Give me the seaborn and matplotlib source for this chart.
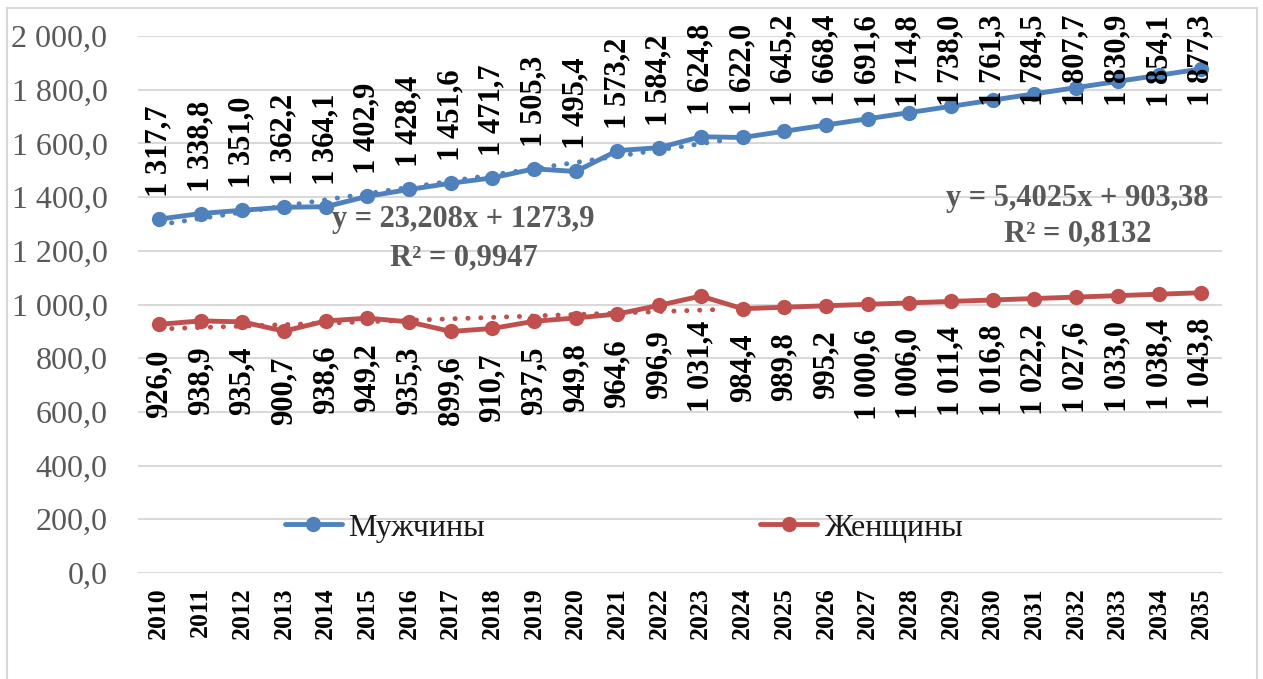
import numpy as np
import pandas as pd
import matplotlib
matplotlib.use("Agg")
import matplotlib.pyplot as plt
import seaborn as sns
from matplotlib.lines import Line2D
from matplotlib.patches import Rectangle

# ---- data ----
years = list(range(2010, 2036))
men = [1317.7, 1338.8, 1351.0, 1362.2, 1364.1, 1402.9, 1428.4, 1451.6, 1471.7,
       1505.3, 1495.4, 1573.2, 1584.2, 1624.8, 1622.0, 1645.2, 1668.4, 1691.6,
       1714.8, 1738.0, 1761.3, 1784.5, 1807.7, 1830.9, 1854.1, 1877.3]
women = [926.0, 938.9, 935.4, 900.7, 938.6, 949.2, 935.3, 899.6, 910.7, 937.5,
         949.8, 964.6, 996.9, 1031.4, 984.4, 989.8, 995.2, 1000.6, 1006.0,
         1011.4, 1016.8, 1022.2, 1027.6, 1033.0, 1038.4, 1043.8]
series_names = ["Мужчины", "Женщины"]
men_eq = ["y = 23,208x + 1273,9", "R² = 0,9947"]
women_eq = ["y = 5,4025x + 903,38", "R² = 0,8132"]
trend_points = 14  # trend fitted on 2010-2023
y_ticks = [0, 200, 400, 600, 800, 1000, 1200, 1400, 1600, 1800, 2000]

BLUE = "#4F81BD"
RED = "#C0504D"
GRAY = "#595959"

def fmt(v):
    s = f"{v:,.1f}".replace(",", " ").replace(".", ",")
    return s

df = pd.DataFrame({
    "idx": list(range(len(years))) * 2,
    "value": men + women,
    "sex": [series_names[0]] * len(years) + [series_names[1]] * len(years),
})

sns.set_theme(style="white")
plt.rcParams["font.family"] = ["Liberation Serif", "DejaVu Serif"]

W, H = 1263, 679
fig = plt.figure(figsize=(W / 100, H / 100), dpi=100)
ax = fig.add_axes([138 / W, 1 - 573 / H, (1222 - 138) / W, (573 - 36) / H])

# outer border
fig.patches.append(Rectangle((7 / W, -0.02), (1257 - 7) / W, (H - 8) / H + 0.02,
                             transform=fig.transFigure, fill=False,
                             edgecolor="#D9D9D9", lw=1.5, zorder=0))

# gridlines
for t in y_ticks:
    ax.axhline(t, color="#D9D9D9", lw=1.5, zorder=0)

sns.lineplot(data=df, x="idx", y="value", hue="sex", palette=[BLUE, RED],
             marker="o", markersize=11, markeredgewidth=0, lw=3.5,
             ax=ax, legend=False, zorder=3)

# trend lines
for vals, col in [(men, BLUE), (women, RED)]:
    xs = np.arange(1, trend_points + 1)
    k, b = np.polyfit(xs, vals[:trend_points], 1)
    xt = np.array([1, trend_points + 0.5])
    ax.plot(xt - 1, k * xt + b, color=col, lw=3.5,
            linestyle=(0, (0.05, 2.6)), dash_capstyle="round", zorder=2)

ax.set_xlim(-0.5, len(years) - 0.5)
ax.set_ylim(0, 2000)
ax.set_xticks(range(len(years)))
ax.set_xticklabels([str(y) for y in years], rotation=90, fontweight="bold",
                   fontsize=18.5, color="black")
ax.set_yticks(y_ticks)
ax.set_yticklabels([fmt(t) for t in y_ticks], fontsize=23, color=GRAY)
ax.tick_params(axis="x", length=0, pad=10)
ax.tick_params(axis="y", length=0, pad=22)
for sp in ax.spines.values():
    sp.set_visible(False)
ax.set_xlabel("")
ax.set_ylabel("")

axh = 537.0
cap = (573 - 15) / axh
L = 97 / axh
for i, v in enumerate(men):
    yb = v / 2000 + 22 / axh
    if yb + L > cap:
        ax.text(i, cap, fmt(v), rotation=90, ha="center", va="top",
                fontsize=22, fontweight="bold", color="black",
                transform=ax.get_xaxis_transform(), zorder=5, clip_on=False)
    else:
        ax.text(i, yb, fmt(v), rotation=90, ha="center", va="bottom",
                fontsize=22, fontweight="bold", color="black",
                transform=ax.get_xaxis_transform(), zorder=5, clip_on=False)
for i, v in enumerate(women):
    ax.text(i, v / 2000 - 25 / axh, fmt(v), rotation=90, ha="center", va="top",
            fontsize=22, fontweight="bold", color="black",
            transform=ax.get_xaxis_transform(), zorder=5)

# trend equations
ax.text(7.31, 1315, men_eq[0], ha="center", va="center", fontsize=22,
        fontweight="bold", color=GRAY, zorder=6)
ax.text(7.31, 1173, men_eq[1], ha="center", va="center", fontsize=22,
        fontweight="bold", color=GRAY, zorder=6)
ax.text(22.04, 1393, women_eq[0], ha="center", va="center", fontsize=22,
        fontweight="bold", color=GRAY, zorder=6)
ax.text(22.04, 1263, women_eq[1], ha="center", va="center", fontsize=22,
        fontweight="bold", color=GRAY, zorder=6)

handles = [Line2D([], [], color=BLUE, lw=3.5, marker="o", markersize=11, markeredgewidth=0),
           Line2D([], [], color=RED, lw=3.5, marker="o", markersize=11, markeredgewidth=0)]
leg = ax.legend(handles, series_names, ncol=2, loc="center",
                bbox_to_anchor=(0.448, 0.084), frameon=False,
                fontsize=23, handlelength=1.8, handletextpad=0.2,
                columnspacing=8.6)
for t in leg.get_texts():
    t.set_color("#1a1a1a")

fig.savefig("out.png", dpi=100)
